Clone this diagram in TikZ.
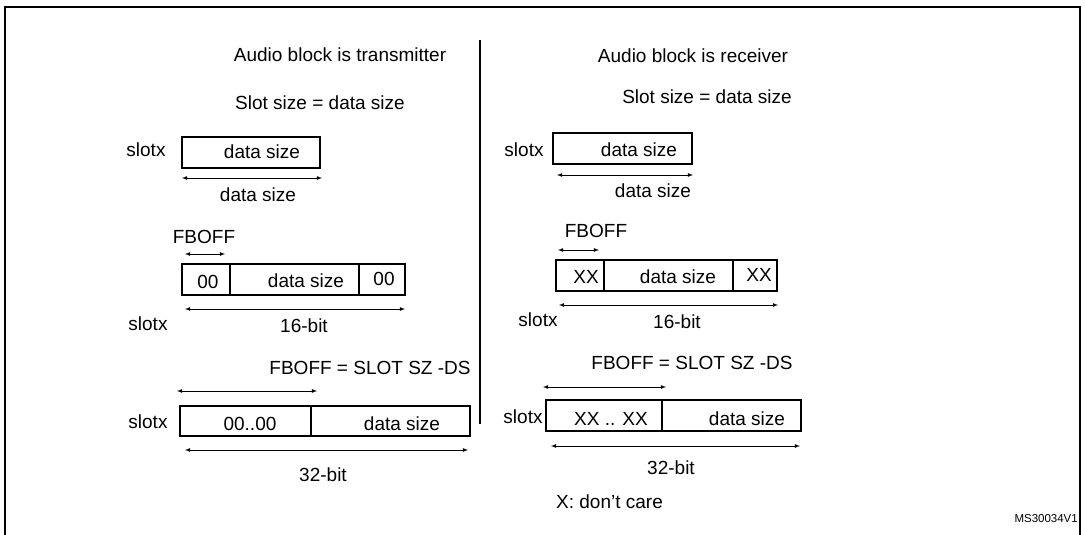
\documentclass[tikz,border=0pt]{standalone}
\usepackage{fontspec}
\setmainfont{Liberation Sans}
\begin{document}
\begin{tikzpicture}[x=1pt,y=-1pt,
  t/.style={inner sep=0pt,font=\fontsize{19}{21}\selectfont},
  cell/.style={line width=1.3pt},
  dim/.style={<->,>=latex,line width=0.8pt}]
\useasboundingbox (0,0) rectangle (1085,535);
\draw[line width=1.6pt] (5,535) -- (5,7) -- (1080,7) -- (1080,535);
\coordinate (d1) at (480,40); \coordinate (d2) at (480,424);
\draw[line width=1.6pt] (d1) -- (d2);
% left
\node[t] at (340,55) {Audio block is transmitter};
\node[t] at (320,103) {Slot size = data size};
\node[t] at (146,150) {slotx};
\draw[cell] (182,137) rectangle (320,168);
\node[t] at (262,152) {data size};
\draw[dim] (182,178) coordinate (l1a) -- (322,178) coordinate (l1c);
\node[t] at (258,195) {data size};
\node[t] at (204,237) {FBOFF};
\draw[dim] (185,254) coordinate (la2) -- (225,254) coordinate (lc2);
\draw[cell] (182,264) rectangle (405,295);
\draw[cell] (230,264) -- (230,295) (359,264) -- (359,295);
\node[t] at (208,282) {00};
\node[t] at (306,281) {data size};
\node[t] at (384,279) {00};
\draw[dim] (185,309) coordinate (la3) -- (405,309) coordinate (lc3);
\node[t] at (148,324) {slotx};
\node[t] at (304,326) {16-bit};
\node[t] at (370,368) {FBOFF = SLOT SZ -DS};
\draw[dim] (177,391) coordinate (la4) -- (317,391) coordinate (lc4);
\draw[cell] (180,406) rectangle (470,436);
\draw[cell] (311,406) -- (311,436);
\node[t] at (148,422) {slotx};
\node[t] at (250,424) {00..00};
\node[t] at (402,424) {data size};
\draw[dim] (185,450) coordinate (la5) -- (468,450) coordinate (lc5);
\node[t] at (323,475) {32-bit};
% right
\node[t] at (693,56) {Audio block is receiver};
\node[t] at (707,97) {Slot size = data size};
\node[t] at (524,150) {slotx};
\draw[cell] (553,133) rectangle (692,164);
\node[t] at (639,150) {data size};
\draw[dim] (557,175) coordinate (ra1) -- (693,175) coordinate (rc1);
\node[t] at (653,191) {data size};
\node[t] at (596,231) {FBOFF};
\draw[dim] (558,250) coordinate (ra2) -- (599,250) coordinate (rc2);
\draw[cell] (556,260) rectangle (777,291);
\draw[cell] (604,260) -- (604,291) (733,260) -- (733,291);
\node[t] at (586,277) {XX};
\node[t] at (678,277) {data size};
\node[t] at (759,275) {XX};
\draw[dim] (559,305) coordinate (ra3) -- (778,305) coordinate (rc3);
\node[t] at (538,320) {slotx};
\node[t] at (677,322) {16-bit};
\node[t] at (692,363) {FBOFF = SLOT SZ -DS};
\draw[dim] (543,387) coordinate (ra4) -- (666,387) coordinate (rc4);
\draw[cell] (546,400) rectangle (801,431);
\draw[cell] (662,400) -- (662,431);
\node[t] at (523,417) {slotx};
\node[t] at (611,419) {XX .. XX};
\node[t] at (747,419) {data size};
\draw[dim] (551,446) coordinate (ra5) -- (800,446) coordinate (rc5);
\node[t] at (671,468) {32-bit};
\node[t,anchor=west] at (556,502) {X: don’t care};
\node[inner sep=0pt,anchor=east,font=\fontsize{11.5}{13}\selectfont] at (1078,519) {MS30034V1};
\end{tikzpicture}
\end{document}
